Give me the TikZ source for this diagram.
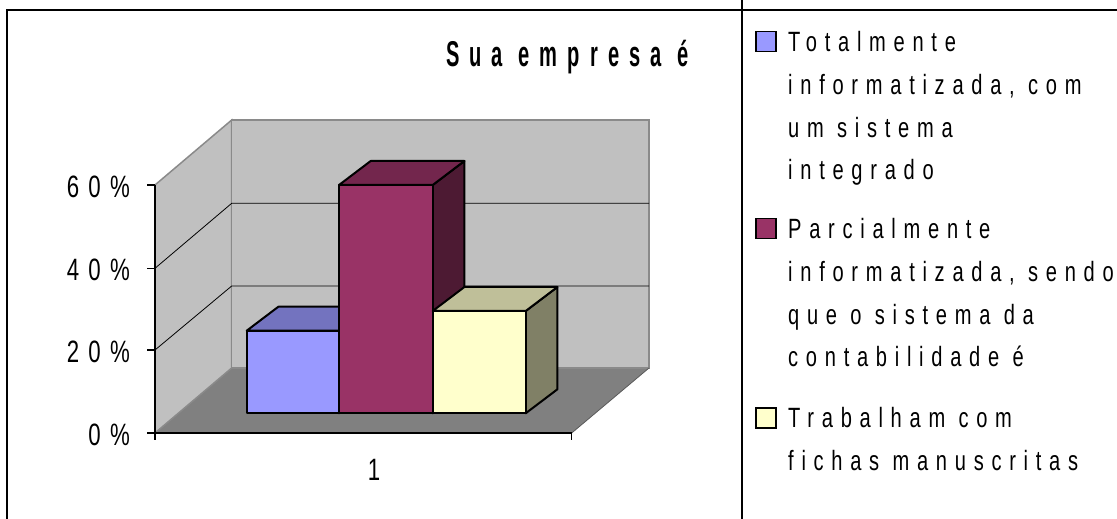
\documentclass[tikz,border=0pt]{standalone}
\usepackage{fontspec}
\setmainfont{Liberation Sans}
\newfontfamily\chartfont[FakeStretch=0.72,LetterSpace=30]{Liberation Sans}
\newfontfamily\legfont[FakeStretch=0.72,LetterSpace=27.7]{Liberation Sans}
\newfontfamily\titlefont[FakeStretch=0.56,LetterSpace=28]{Liberation Sans}
\definecolor{wallgray}{HTML}{C0C0C0}
\definecolor{floorgray}{HTML}{808080}
\definecolor{edgegray}{HTML}{8A8A8A}
\definecolor{blueface}{HTML}{9999FF}
\definecolor{bluetop}{HTML}{7373BF}
\definecolor{redface}{HTML}{993366}
\definecolor{redtop}{HTML}{73264D}
\definecolor{redside}{HTML}{4D1A33}
\definecolor{yellowface}{HTML}{FFFFCC}
\definecolor{yellowtop}{HTML}{BFBF99}
\definecolor{yellowside}{HTML}{808066}
\usetikzlibrary{positioning}

\begin{document}
\begin{tikzpicture}[x=1bp, y=-1bp,
      wall/.style={fill=wallgray, draw=edgegray, line width=1.5bp},
      gridline/.style={draw=black, line width=0.8bp},
      axisline/.style={draw=black, line width=1.2bp},
      barline/.style={draw=black, line width=2bp, line join=round},
      axislabel/.style={font=\chartfont\fontsize{31}{36}\selectfont,
                        anchor=east, inner sep=0pt},
      legtext/.style={font=\legfont\fontsize{28}{43}\selectfont,
                      align=left, anchor=north west, inner sep=0pt},
      swatch/.style={draw=black, line width=1.5bp, minimum size=20bp,
                     inner sep=0pt, anchor=north west}
    ]
      \useasboundingbox (0,0) rectangle (1117,519);

      % frame
      \draw[line width=1.3bp] (7,519) -- (7,10) -- (1117,10);
      \draw[line width=1.3bp] (742,0) -- (742,519);

      % walls and floor
      \fill[floorgray] (155,433) -- (571.7,433) -- (649,368) -- (231.7,368) -- cycle;
      \draw[wall] (155,433) -- (155,185) -- (231.7,120) -- (231.7,368) -- cycle;
      \draw[wall] (231.7,120) rectangle (649,368);
      \draw[draw=floorgray!70!black, line width=0.8bp] (571.7,433) -- (649,368);
      \foreach \y/\yb in {350/286, 268.3/203.3}
        \draw[gridline] (155,\y) -- (231.7,\yb) -- (649,\yb);

      % axes
      \draw[axisline] (155,185) -- (155,433) -- (571.7,433);
      \foreach \y/\lab in {433/0, 350/20, 268.3/40, 185/60} {
        \draw[axisline] (147,\y) -- (155,\y);
        \node[axislabel] (l\lab) at (130,\y+2) {\lab\%};
      }
      \draw[axisline] (155,433) -- (155,440);
      \draw[axisline] (571.7,433) -- (571.7,440);
      \node[font=\chartfont\fontsize{31}{36}\selectfont, inner sep=0pt] (cat) at (374,470) {1};

      % bars
      \foreach \xl/\xr/\top/\face/\topc/\side in {
          246.7/339/330.7/blueface/bluetop/bluetop,
          339/432.7/185/redface/redtop/redside,
          432.7/525.7/311/yellowface/yellowtop/yellowside} {
        \filldraw[barline, fill=\side] (\xr,413.3) -- (\xr+31.7,389.3)
          -- (\xr+31.7,\top-24) -- (\xr,\top) -- cycle;
        \filldraw[barline, fill=\topc] (\xl,\top) -- (\xl+31.7,\top-24)
          -- (\xr+31.7,\top-24) -- (\xr,\top) -- cycle;
        \filldraw[barline, fill=\face] (\xl,413.3) rectangle (\xr,\top);
      }

      % title
      \node[font=\titlefont\bfseries\fontsize{36}{40}\selectfont,
            anchor=base west, inner sep=0pt] (title) at (446,66.7) {Sua empresa é};

      % legend
      \node[swatch, fill=blueface] (sw1) at (755,31) {};
      \node[legtext] (leg1) at (788,31) {Totalmente\\informatizada, com\\um sistema\\integrado};
      \node[swatch, fill=redface] (sw2) at (755,218) {};
      \node[legtext] (leg2) at (788,218) {Parcialmente\\informatizada, sendo\\que o sistema da\\contabilidade é};
      \node[swatch, fill=yellowface] (sw3) at (755,407) {};
      \node[legtext] (leg3) at (788,407) {Trabalham com\\fichas manuscritas};
    \end{tikzpicture}
\end{document}
